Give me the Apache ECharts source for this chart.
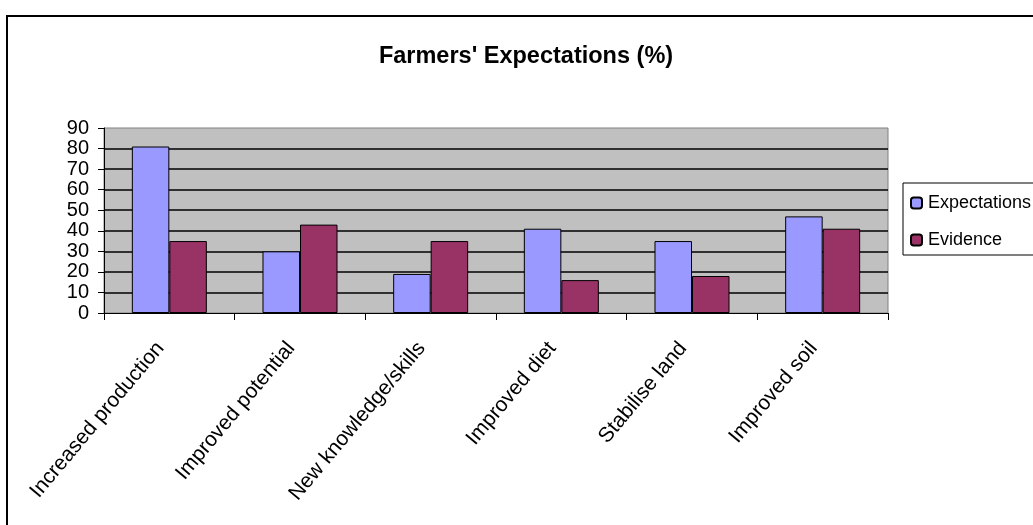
<!DOCTYPE html>
<html>
<head>
<meta charset="utf-8">
<script src="https://cdn.jsdelivr.net/npm/echarts@6/dist/echarts.min.js"></script>
<style>
  html, body { margin: 0; padding: 0; background: #fff; }
  #chart { width: 1033px; height: 525px; }
</style>
</head>
<body>
<div id="chart"></div>
<script>
// Survey categories and the two percentage series
const categories = [
  'Increased production',
  'Improved potential',
  'New knowledge/skills',
  'Improved diet',
  'Stabilise land',
  'Improved soil'
];
const expectations = [81, 30, 19, 41, 35, 47];
const evidence = [35, 43, 35, 16, 18, 41];
const yTicks = { min: 0, max: 90, interval: 10 };

const FONT = 'Liberation Sans, Arial, sans-serif';

const chart = echarts.init(document.getElementById('chart'), null, { renderer: 'canvas' });

chart.setOption({
  backgroundColor: '#ffffff',
  animation: false,
  title: {
    text: "Farmers' Expectations (%)",
    left: 521,
    textAlign: 'center',
    top: 40,
    textStyle: { fontFamily: FONT, fontSize: 23.5, fontWeight: 'bold', color: '#000' }
  },
  graphic: [{
    // outer chart frame
    type: 'rect',
    shape: { x: 7, y: 16, width: 1100, height: 600 },
    style: { fill: 'none', stroke: '#000', lineWidth: 2 },
    silent: true
  }],
  legend: {
    orient: 'vertical',
    left: 903,
    top: 183,
    padding: [11, 60, 6, 7],
    itemGap: 19,
    itemWidth: 11,
    itemHeight: 11,
    borderColor: '#000',
    borderWidth: 1,
    backgroundColor: '#fff',
    textStyle: { fontFamily: FONT, fontSize: 18, color: '#000', padding: [0, 0, 0, 1] },
    data: ['Expectations', 'Evidence']
  },
  grid: {
    left: 104,
    right: 145,
    top: 128,
    bottom: 212,
    show: true,
    backgroundColor: '#C0C0C0',
    borderColor: '#808080',
    borderWidth: 1
  },
  xAxis: {
    type: 'category',
    data: categories,
    boundaryGap: true,
    axisLine: { lineStyle: { color: '#000', width: 1 } },
    axisTick: { show: true, length: 7, alignWithLabel: false, lineStyle: { color: '#000' } },
    axisLabel: {
      rotate: 50,
      margin: 21,
      interval: 0,
      fontFamily: FONT,
      fontSize: 21,
      padding: [0, 14, 0, 0],
      color: '#000'
    }
  },
  yAxis: {
    type: 'value',
    min: yTicks.min,
    max: yTicks.max,
    interval: yTicks.interval,
    axisLine: { show: true, lineStyle: { color: '#000', width: 1 } },
    axisTick: { show: true, length: 6, lineStyle: { color: '#000' } },
    axisLabel: { margin: 15, fontFamily: FONT, fontSize: 20, color: '#000' },
    splitLine: { show: true, showMinLine: false, showMaxLine: false, lineStyle: { color: '#000', width: 1.5 } }
  },
  series: [
    {
      name: 'Expectations',
      type: 'bar',
      data: expectations,
      barGap: '0%',
      barCategoryGap: '42.6%',
      itemStyle: { color: '#9999FF', borderColor: '#000', borderWidth: 1 }
    },
    {
      name: 'Evidence',
      type: 'bar',
      data: evidence,
      itemStyle: { color: '#993366', borderColor: '#000', borderWidth: 1 }
    }
  ]
});
</script>
</body>
</html>
